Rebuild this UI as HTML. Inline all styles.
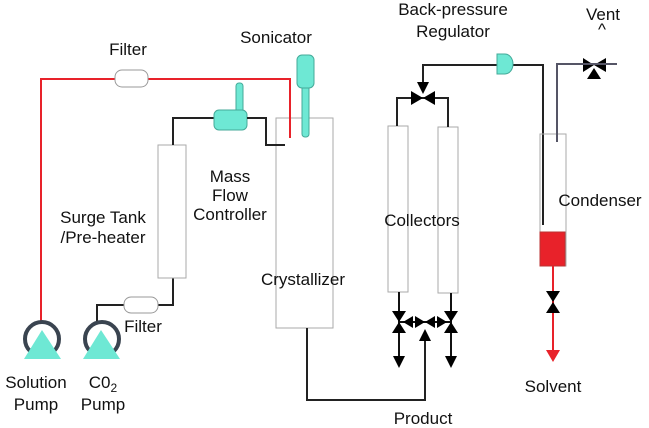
<!DOCTYPE html><html><head><style>body{margin:0;background:#fff}svg{display:block}text{font-family:"Liberation Sans",sans-serif;font-size:17px;fill:#111;text-anchor:middle}</style></head><body>
<svg width="649" height="428" viewBox="0 0 649 428" xmlns="http://www.w3.org/2000/svg">
<defs><marker id="a" markerWidth="12" markerHeight="12" refX="6" refY="6" orient="auto" markerUnits="userSpaceOnUse"><path d="M0,0 L12,6 L0,12z" fill="#000"/></marker></defs>
<polyline points="41,322 41,79 290,79 290,138" fill="none" stroke="#e8222a" stroke-width="2"/>
<rect x="115" y="70" width="33" height="17" rx="7" fill="#fff" stroke="#999"/>
<polyline points="97,322 97,305 173,305 173,278" fill="none" stroke="#222" stroke-width="2"/>
<rect x="124" y="297" width="34" height="16" rx="7" fill="#fff" stroke="#999"/>
<rect x="158" y="145" width="28" height="133" fill="#fff" stroke="#aaa"/>
<polyline points="173,145 173,118 214,118" fill="none" stroke="#222" stroke-width="2"/>
<rect x="236" y="83" width="7" height="30" rx="3" fill="#6ee8d4" stroke="#4a9"/>
<rect x="214" y="110" width="33" height="20" rx="5" fill="#6ee8d4" stroke="#4a9"/>
<rect x="276" y="118" width="57" height="210" fill="#fff" stroke="#aaa"/>
<polyline points="290,79 290,138" fill="none" stroke="#e8222a" stroke-width="2"/>
<polyline points="247,118 266,118 266,145 285,145" fill="none" stroke="#222" stroke-width="2"/>
<rect x="302" y="85" width="7" height="52" rx="3" fill="#6ee8d4" stroke="#4a9"/>
<rect x="297" y="55" width="17" height="33" rx="5" fill="#6ee8d4" stroke="#4a9"/>
<polyline points="307,328 307,400 425,400 425,335" fill="none" stroke="#222" stroke-width="2" marker-end="url(#a)"/>
<g fill="none" stroke="#3a4450" stroke-width="4"><circle cx="42" cy="339" r="17"/><circle cx="102" cy="339" r="17"/></g>
<polygon points="24,359 61,359 42,330" fill="#6ee8d4"/><polygon points="83,359 120,359 101,330" fill="#6ee8d4"/>
<rect x="388" y="126" width="20" height="166" fill="#fff" stroke="#aaa"/>
<rect x="438" y="127" width="20" height="166" fill="#fff" stroke="#aaa"/>
<polyline points="497,65 423,65 423,88" fill="none" stroke="#222" stroke-width="2" marker-end="url(#a)"/>
<polyline points="397,126 397,98 448,98 448,127" fill="none" stroke="#222" stroke-width="2"/>
<g fill="#000"><polygon points="411,91 411,105 423,98"/><polygon points="435,91 435,105 423,98"/>
<polygon points="583,58 583,72 594,65"/><polygon points="606,58 606,72 594,65"/><polygon points="587,79 601,79 594,68"/></g>
<g stroke="#111" stroke-width="2" fill="none"><line x1="399" y1="292" x2="399" y2="362" marker-end="url(#a)"/><line x1="451" y1="293" x2="451" y2="362" marker-end="url(#a)"/><line x1="399" y1="322" x2="451" y2="322"/></g>
<g fill="#000"><polygon points="392,311 406,311 399,322"/><polygon points="392,333 406,333 399,322"/><polygon points="444,311 458,311 451,322"/><polygon points="444,333 458,333 451,322"/>
<polygon points="403,322 413,316 413,328"/><polygon points="447,322 437,316 437,328"/><polygon points="415,316 425,322 415,328"/><polygon points="435,316 425,322 435,328"/></g>
<polyline points="512,65 543,65 543,225" fill="none" stroke="#222" stroke-width="2"/>
<path d="M497,54 H505 A8,10 0 0 1 505,74 H497z" fill="#6ee8d4" stroke="#4a9"/>
<rect x="540" y="134" width="26" height="132" fill="none" stroke="#aaa"/>
<polyline points="557,142 557,64 617,64" fill="none" stroke="#556" stroke-width="2"/>
<rect x="540" y="232" width="25" height="34" fill="#e8222a" stroke="#b33"/>
<line x1="553" y1="266" x2="553" y2="350" stroke="#e8222a" stroke-width="2"/>
<polygon points="546,350 560,350 553,362" fill="#e8222a"/>
<g fill="#000"><polygon points="546,291 560,291 553,302"/><polygon points="546,313 560,313 553,302"/></g>
<text x="128" y="55">Filter</text><text x="276" y="43">Sonicator</text>
<text x="230" y="182">Mass</text><text x="230" y="201">Flow</text><text x="230" y="220">Controller</text>
<text x="103" y="223">Surge Tank</text><text x="103" y="243">/Pre-heater</text>
<text x="303" y="285">Crystallizer</text><text x="143" y="332">Filter</text>
<text x="36" y="388">Solution</text><text x="36" y="410">Pump</text>
<text x="103" y="388">C0<tspan font-size="12" dy="4">2</tspan></text><text x="103" y="410">Pump</text>
<text x="422" y="226">Collectors</text><text x="600" y="206">Condenser</text>
<text x="453" y="15">Back-pressure</text><text x="453" y="37">Regulator</text>
<text x="603" y="20">Vent</text><text x="602" y="35">^</text>
<text x="553" y="392">Solvent</text><text x="423" y="424">Product</text>
</svg></body></html>
